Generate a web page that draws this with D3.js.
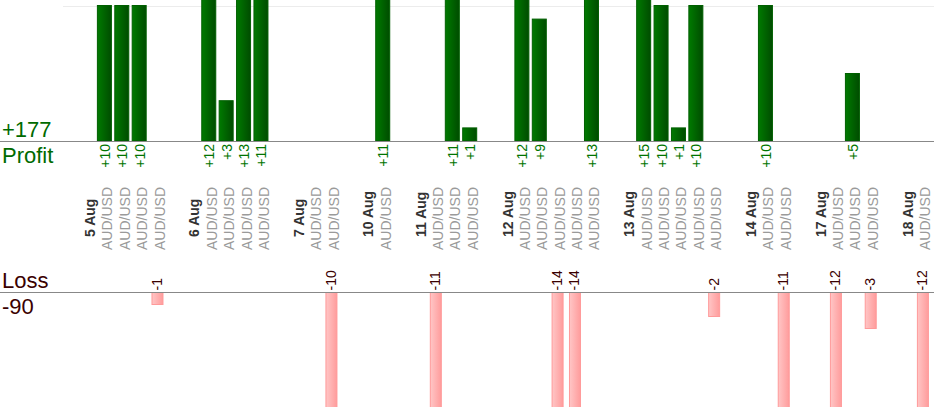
<!DOCTYPE html>
<html><head><meta charset="utf-8">
<script src="https://cdn.jsdelivr.net/npm/d3@7"></script>
<style>
html,body{margin:0;padding:0;background:#fff;overflow:hidden}
svg{display:block;font-family:"Liberation Sans",Arial,sans-serif}
</style></head>
<body>
<svg id="c" width="934" height="420"></svg>
<script>
// ---- data ----
const days = ["5 Aug","6 Aug","7 Aug","10 Aug","11 Aug","12 Aug","13 Aug","14 Aug","17 Aug","18 Aug"];
const tradeDay = [0,0,0,0, 1,1,1,1, 2,2, 3, 4,4,4, 5,5,5,5,5, 6,6,6,6,6, 7,7, 8,8,8, 9];
const tradePair = ["AUD/USD","AUD/USD","AUD/USD","AUD/USD","AUD/USD","AUD/USD","AUD/USD","AUD/USD","AUD/USD","AUD/USD",
  "AUD/USD","AUD/USD","AUD/USD","AUD/USD","AUD/USD","AUD/USD","AUD/USD","AUD/USD","AUD/USD","AUD/USD",
  "AUD/USD","AUD/USD","AUD/USD","AUD/USD","AUD/USD","AUD/USD","AUD/USD","AUD/USD","AUD/USD","AUD/USD"];
const tradeResult = [10,10,10,-1, 12,3,13,11, null,-10, 11, -11,11,1, 12,9,-14,-14,13, 15,10,1,10,-2, 10,-11, -12,5,-3, -12];
const totalProfit = "+177";
const totalLoss = "-90";

// ---- build slot sequence ----
const slots = [];
days.forEach((d, di) => {
  slots.push({key: "g" + di, type: "gap"});
  slots.push({key: "d" + di, type: "date", label: d});
  tradeDay.forEach((td, ti) => {
    if (td === di) slots.push({key: "t" + ti, type: "trade", label: tradePair[ti], v: tradeResult[ti]});
  });
});

const svg = d3.select("#c");
const W = 934;
const step = 17.396;
const x = d3.scaleBand().domain(slots.map(s => s.key))
  .range([69.6 - step / 2, 69.6 - step / 2 + step * slots.length]).padding(0);
const cx = k => x(k) + x.bandwidth() / 2;

const yP = d3.scaleLinear().domain([0, 10]).range([141, 5]);
const yL = d3.scaleLinear().domain([0, 10]).range([293, 413]);

const defs = svg.append("defs");
const gP = defs.append("linearGradient").attr("id", "gp").attr("x1", 0).attr("x2", 1).attr("y1", 0).attr("y2", 0);
gP.append("stop").attr("offset", "0%").attr("stop-color", "#007a00");
gP.append("stop").attr("offset", "100%").attr("stop-color", "#004c00");
const gL = defs.append("linearGradient").attr("id", "gl").attr("x1", 0).attr("x2", 1).attr("y1", 0).attr("y2", 0);
gL.append("stop").attr("offset", "0%").attr("stop-color", "#ffc6c6");
gL.append("stop").attr("offset", "100%").attr("stop-color", "#ff9c9c");
defs.append("clipPath").attr("id", "clipL").append("rect")
  .attr("x", 0).attr("y", 292).attr("width", W).attr("height", 115);

// gridline
svg.append("line").attr("x1", 63).attr("x2", W).attr("y1", 6.5).attr("y2", 6.5)
  .attr("stroke", "#ececec").attr("stroke-width", 1);

const trades = slots.filter(s => s.type === "trade");
const profits = trades.filter(s => s.v != null && s.v > 0);
const losses = trades.filter(s => s.v != null && s.v < 0);

// profit bars
svg.append("g").selectAll("rect").data(profits).join("rect")
  .attr("x", d => cx(d.key) - 7.5 + 0.5)
  .attr("width", 14)
  .attr("y", d => yP(d.v) + 0.5)
  .attr("height", d => yP(0) - yP(d.v) - 0.5)
  .attr("fill", "url(#gp)")
  .attr("stroke", "#005f00").attr("stroke-width", 1);

// loss bars
svg.append("g").attr("clip-path", "url(#clipL)").selectAll("rect").data(losses).join("rect")
  .attr("x", d => cx(d.key) - 5.5 + 0.5 + 0.4)
  .attr("width", 11)
  .attr("y", yL(0) - 0.5)
  .attr("height", d => yL(-d.v) - yL(0))
  .attr("fill", "url(#gl)")
  .attr("stroke", "#ff9a9a").attr("stroke-width", 1);

// axis lines
svg.append("line").attr("x1", 0).attr("x2", W).attr("y1", 141.5).attr("y2", 141.5).attr("stroke", "#888");
svg.append("line").attr("x1", 0).attr("x2", W).attr("y1", 292.5).attr("y2", 292.5).attr("stroke", "#888");

// profit labels
svg.append("g").selectAll("text").data(profits).join("text")
  .attr("transform", d => `translate(${cx(d.key) + 5.5},144) rotate(-90)`)
  .attr("text-anchor", "end")
  .attr("font-size", 14).attr("fill", "#007400")
  .text(d => "+" + d.v);

// loss labels
svg.append("g").selectAll("text").data(losses).join("text")
  .attr("transform", d => `translate(${cx(d.key) + 5.3},290.5) rotate(-90)`)
  .attr("text-anchor", "start")
  .attr("font-size", 14).attr("fill", "#3a0000")
  .text(d => String(d.v));

// category labels
svg.append("g").selectAll("text").data(trades).join("text")
  .attr("transform", d => `translate(${cx(d.key) + 8},250) rotate(-90)`)
  .attr("text-anchor", "start")
  .attr("font-size", 14).attr("fill", "#9a9a9a")
  .text(d => d.label);
svg.append("g").selectAll("text").data(slots.filter(s => s.type === "date")).join("text")
  .attr("transform", d => `translate(${cx(d.key) + 8},237) rotate(-90)`)
  .attr("text-anchor", "start")
  .attr("font-size", 14).attr("font-weight", "bold").attr("fill", "#333")
  .text(d => d.label);

// totals
svg.append("text").attr("x", 2).attr("y", 137).attr("font-size", 22).attr("fill", "#006a00").text(totalProfit);
svg.append("text").attr("x", 2).attr("y", 163).attr("font-size", 22).attr("fill", "#006a00").text("Profit");
svg.append("text").attr("x", 2).attr("y", 288).attr("font-size", 22).attr("fill", "#3a0000").text("Loss");
svg.append("text").attr("x", 2).attr("y", 314).attr("font-size", 22).attr("fill", "#3a0000").text(totalLoss);
</script>
</body></html>
